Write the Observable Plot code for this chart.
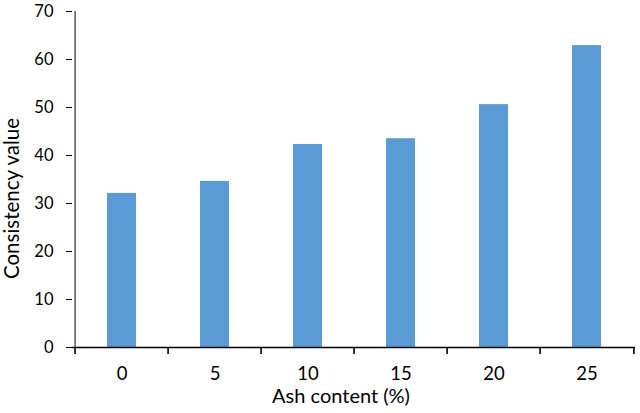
<!DOCTYPE html>
<html>
<head>
<meta charset="utf-8">
<script src="https://cdn.jsdelivr.net/npm/d3@7"></script>
<script src="https://cdn.jsdelivr.net/npm/@observablehq/plot@0.6"></script>
<style>
  html, body { margin: 0; padding: 0; background: #fff; }
  #chart { width: 640px; height: 413px; }
</style>
</head>
<body>
<div id="chart"></div>
<script>
// Data
const ashContent = ["0", "5", "10", "15", "20", "25"];
const consistency = [32.1, 34.6, 42.3, 43.5, 50.6, 62.9];
const yTicks = [0, 10, 20, 30, 40, 50, 60, 70];
const xTitle = "Ash content (%)";
const yTitle = "Consistency value";

const data = ashContent.map((c, i) => ({ash: c, value: consistency[i]}));

const W = 640, H = 413;
const mL = 72, mR = 5, mT = 11, mB = 66;
const step = (W - mL - mR) / ashContent.length;
const font = "Lato, 'Open Sans', sans-serif";

const plot = Plot.plot({
  width: W,
  height: H,
  marginLeft: mL,
  marginRight: mR,
  marginTop: mT,
  marginBottom: mB,
  style: {fontFamily: font, fontSize: "16px", color: "#000", background: "#fff"},
  x: {type: "band", domain: ashContent, paddingInner: 0.69, paddingOuter: 0.345},
  y: {domain: [0, 70]},
  marks: [
    Plot.barY(data, {x: "ash", y: "value", fill: "#5B9BD5"}),
    Plot.axisY({ticks: yTicks, tickSize: 6, tickPadding: 13, fontSize: 16.5, label: null, stroke: "#000"}),
    Plot.axisX({tickSize: 0, tickPadding: 19, fontSize: 18.5, label: null}),
    // y axis line at the left boundary of the first band
    Plot.ruleX([ashContent[0]], {x: d => d, dx: -step / 2, y1: 0, y2: 70, stroke: "#000", strokeWidth: 1}),
    // x axis line
    Plot.ruleY([0], {stroke: "#000", strokeWidth: 1.6}),
    // category boundary tick marks
    Plot.ruleX(ashContent, {x: d => d, dx: -step / 2, y1: 0, y2: 0, insetBottom: -7, stroke: "#000", strokeWidth: 1.6}),
    Plot.ruleX([ashContent[ashContent.length - 1]], {x: d => d, dx: step / 2, y1: 0, y2: 0, insetBottom: -7, stroke: "#000", strokeWidth: 1.6}),
    // axis titles
    Plot.text([xTitle], {text: d => d, frameAnchor: "bottom", textAnchor: "middle", dx: -13, dy: 55, fontSize: 20, fill: "#000"}),
    Plot.text([yTitle], {text: d => d, frameAnchor: "left", textAnchor: "middle", rotate: -90, dx: -60, dy: 19, fontSize: 20.5, fill: "#000"})
  ]
});
document.getElementById("chart").appendChild(plot);
</script>
</body>
</html>
